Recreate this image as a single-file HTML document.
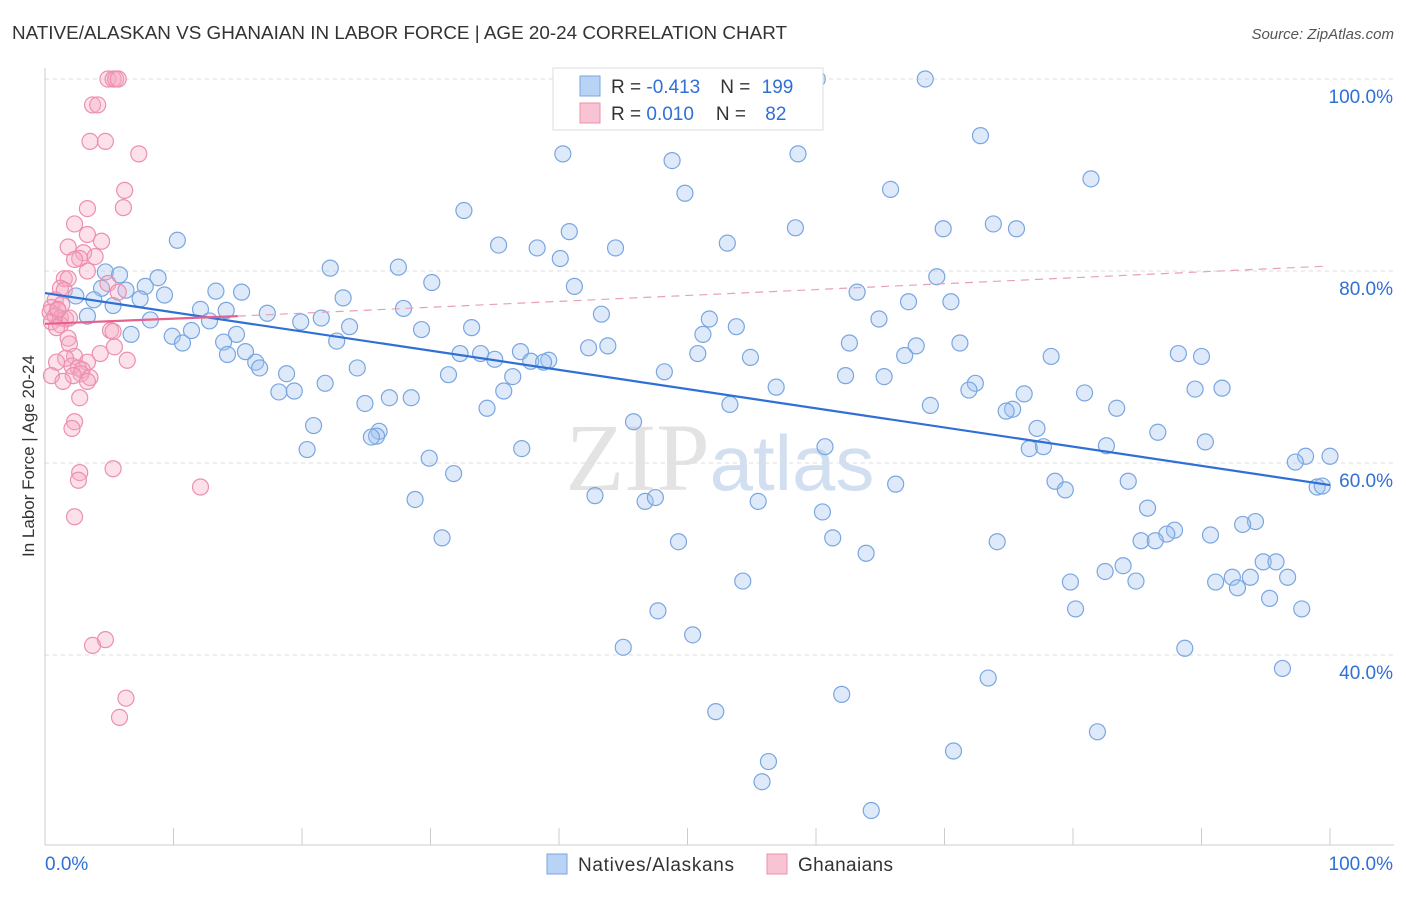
<!DOCTYPE html>
<html><head><meta charset="utf-8">
<style>
html,body{margin:0;padding:0;background:#fff;}
body{width:1406px;height:892px;overflow:hidden;font-family:"Liberation Sans",sans-serif;}
</style></head>
<body>
<svg id="chart" width="1406" height="892" xmlns="http://www.w3.org/2000/svg" font-family="Liberation Sans, sans-serif">
<text x="12" y="39" font-size="18" fill="#333" textLength="775" lengthAdjust="spacingAndGlyphs">NATIVE/ALASKAN VS GHANAIAN IN LABOR FORCE | AGE 20-24 CORRELATION CHART</text>
<text x="1394" y="39" font-size="15" fill="#555" text-anchor="end" font-style="italic">Source: ZipAtlas.com</text>
<text x="720" y="490" font-size="96" fill="#ddd" text-anchor="middle" font-family="Liberation Serif, serif" opacity="0.8">ZIP<tspan fill="#c8d8ee" font-family="Liberation Sans, sans-serif" font-size="78">atlas</tspan></text>
<g id="grid"></g>
<g id="axes"></g>
<g id="pts"></g>
<g id="trends"></g>
<text transform="translate(34,456) rotate(-90)" font-size="17" fill="#333" text-anchor="middle">In Labor Force | Age 20-24</text>
<g>
<rect x="553" y="68" width="270" height="62" fill="#fff" stroke="#ddd"/>
<rect x="580" y="76" width="20" height="20" fill="#b8d3f5" stroke="#7aa6e0"/>
<rect x="580" y="103" width="20" height="20" fill="#f8c4d4" stroke="#ec8fae"/>
<text x="611" y="93" font-size="19" fill="#333">R = <tspan fill="#2f6fd6">-0.413</tspan><tspan dx="20">N = </tspan><tspan fill="#2f6fd6" dx="6">199</tspan></text>
<text x="611" y="120" font-size="19" fill="#333">R = <tspan fill="#2f6fd6"> 0.010</tspan><tspan dx="22">N = </tspan><tspan fill="#2f6fd6" dx="14">82</tspan></text>
</g>
<g>
<rect x="547" y="854" width="20" height="20" fill="#b8d3f5" stroke="#7aa6e0"/>
<text x="578" y="871" font-size="19" fill="#333" textLength="156">Natives/Alaskans</text>
<rect x="767" y="854" width="20" height="20" fill="#f8c4d4" stroke="#ec8fae"/>
<text x="798" y="871" font-size="19" fill="#333" textLength="95">Ghanaians</text>
</g>
</svg>
<script>
const blueX=[60.1,58.7,68.5,45.4,46.3,72.8,40.3,58.6,48.8,81.4,65.8,49.8,32.6,73.8,75.6,69.9,58.4,40.8,10.3,35.3,38.3,53.1,44.4,40.1,22.2,27.5,4.7,5.8,8.8,69.4,30.1,41.2,7.8,4.4,6.3,13.3,15.3,63.2,9.3,7.4,2.4,3.8,23.2,67.2,70.5,5.3,27.9,12.1,14.1,3.3,17.3,43.3,51.7,64.9,8.2,12.8,19.9,21.5,23.7,29.3,33.2,53.8,51.2,6.7,9.9,11.4,14.9,22.7,13.9,10.7,62.6,71.2,67.8,42.3,43.8,15.6,14.2,32.3,33.9,37.0,50.8,54.9,66.9,78.3,88.2,90.0,35.0,37.8,39.2,38.8,16.4,16.7,24.3,48.2,18.8,31.4,36.4,62.3,65.3,21.8,56.9,72.4,71.9,89.5,91.6,76.2,80.9,18.2,19.4,35.7,26.8,28.5,24.9,34.4,53.3,68.9,75.3,74.8,83.4,20.9,45.8,77.2,86.6,26.0,25.8,25.4,90.3,82.6,60.7,76.6,77.7,37.1,20.4,29.9,98.1,100,97.3,31.8,78.6,84.3,66.2,79.4,99.0,99.4,28.8,42.8,46.7,47.5,55.5,85.8,60.5,94.2,93.2,87.9,87.3,90.7,85.3,86.4,30.9,49.3,61.3,74.1,63.9,83.9,94.8,95.8,82.5,92.4,93.8,96.7,91.1,84.9,79.8,54.3,92.8,95.3,97.8,80.2,47.7,50.4,45.0,88.7,96.3,73.4,62.0,52.2,81.9,70.7,56.3,55.8,64.3];
const blueY=[100,100,100,97.4,96.0,94.1,92.2,92.2,91.5,89.6,88.5,88.1,86.3,84.9,84.4,84.4,84.5,84.1,83.2,82.7,82.4,82.9,82.4,81.3,80.3,80.4,79.9,79.6,79.3,79.4,78.8,78.4,78.4,78.2,78.0,77.9,77.8,77.8,77.5,77.1,77.4,77.0,77.2,76.8,76.8,76.4,76.1,76.0,75.9,75.3,75.6,75.5,75.0,75.0,74.9,74.8,74.7,75.1,74.2,73.9,74.1,74.2,73.4,73.4,73.2,73.8,73.4,72.7,72.6,72.5,72.5,72.5,72.2,72.0,72.2,71.6,71.3,71.4,71.4,71.6,71.4,71.0,71.2,71.1,71.4,71.1,70.8,70.6,70.7,70.5,70.5,69.9,69.9,69.5,69.3,69.2,69.0,69.1,69.0,68.3,67.9,68.3,67.6,67.7,67.8,67.2,67.3,67.4,67.5,67.5,66.8,66.8,66.2,65.7,66.1,66.0,65.6,65.4,65.7,63.9,64.3,63.6,63.2,63.3,62.8,62.7,62.2,61.8,61.7,61.5,61.7,61.5,61.4,60.5,60.7,60.7,60.1,58.9,58.1,58.1,57.8,57.2,57.5,57.6,56.2,56.6,56.0,56.4,56.0,55.3,54.9,53.9,53.6,53.0,52.6,52.5,51.9,51.9,52.2,51.8,52.2,51.8,50.6,49.3,49.7,49.7,48.7,48.1,48.1,48.1,47.6,47.7,47.6,47.7,47.0,45.9,44.8,44.8,44.6,42.1,40.8,40.7,38.6,37.6,35.9,34.1,32.0,30.0,28.9,26.8,23.8];
const pinkX=[4.9,5.3,5.5,5.7,3.7,4.1,3.5,4.7,7.3,6.2,6.1,3.3,2.3,3.3,4.4,1.8,3.0,2.7,3.9,2.3,3.3,1.5,1.8,1.2,1.5,4.9,5.7,0.8,1.3,0.5,1.0,0.4,0.8,1.2,1.6,0.5,1.2,1.9,0.9,5.1,5.3,1.8,1.9,5.4,4.3,2.3,1.6,6.4,3.3,0.9,2.1,2.6,2.9,2.8,2.2,0.5,3.5,3.3,1.4,2.7,2.3,2.1,5.3,2.7,2.6,12.1,2.3,4.7,3.7,6.3,5.8,1.0];
const pinkY=[100,100,100,100,97.3,97.3,93.5,93.5,92.2,88.4,86.6,86.5,84.9,83.8,83.1,82.5,81.9,81.3,81.5,81.2,80.0,79.2,79.2,78.2,78.0,78.7,77.8,77.0,76.5,76.2,75.9,75.7,75.3,75.1,75.0,74.7,74.4,75.1,74.1,73.8,73.7,73.0,72.4,72.1,71.4,71.1,70.9,70.7,70.5,70.5,70.1,69.9,69.7,69.3,69.1,69.1,68.9,68.5,68.5,66.8,64.3,63.6,59.4,59.0,58.2,57.5,54.4,41.6,41.0,35.5,33.5,76.0];
const yTicks=[100,80,60,40];
const yTickLabels=["100.0%","80.0%","60.0%","40.0%"];
const xTickLabels=["0.0%","100.0%"];
const blueTrend=[[0,77.7],[100,57.7]];
const pinkTrend=[[0,74.5],[15,75.3],[99.6,80.5]];

const X=v=>45+v*12.85;
const Y=v=>1039-v*9.6;
const NS="http://www.w3.org/2000/svg";
function mk(tag,attrs,parent){const e=document.createElementNS(NS,tag);for(const k in attrs)e.setAttribute(k,attrs[k]);parent.appendChild(e);return e;}
const grid=document.getElementById('grid'),axes=document.getElementById('axes'),pts=document.getElementById('pts'),tr=document.getElementById('trends');
yTicks.forEach((t,i)=>{
  const l=mk('line',{x1:45,x2:1394,y1:Y(t),y2:Y(t),stroke:'#ddd','stroke-dasharray':'4,4'},grid);
  
  
  const tx=mk('text',{x:1393,y:Y(t)+24,'font-size':19,fill:'#2f6fd6','text-anchor':'end'},axes);
  tx.textContent=yTickLabels[i];
  
  
});
mk('line',{x1:45,x2:45,y1:68,y2:845,stroke:'#ccc'},axes);
mk('line',{x1:45,x2:1394,y1:845,y2:845,stroke:'#ccc'},axes);
for(let i=1;i<=10;i++){mk('line',{x1:X(i*10),x2:X(i*10),y1:828,y2:845,stroke:'#ccc'},axes);}
const xl0=mk('text',{x:45,y:870,'font-size':19,fill:'#2f6fd6'},axes);xl0.textContent=xTickLabels[0];


const xl1=mk('text',{x:1393,y:870,'font-size':19,fill:'#2f6fd6','text-anchor':'end'},axes);xl1.textContent=xTickLabels[1];


blueX.forEach((v,i)=>{
  const c=mk('circle',{cx:X(v),cy:Y(blueY[i]),r:8,fill:'rgba(160,196,240,0.35)',stroke:'#7aa6e0','stroke-width':1.2},pts);
  
  
});
pinkX.forEach((v,i)=>{
  const c=mk('circle',{cx:X(v),cy:Y(pinkY[i]),r:8,fill:'rgba(245,170,195,0.35)',stroke:'#ec8fae','stroke-width':1.2},pts);
  
  
});
const bl=mk('line',{x1:X(blueTrend[0][0]),y1:Y(blueTrend[0][1]),x2:X(blueTrend[1][0]),y2:Y(blueTrend[1][1]),stroke:'#2f6fd6','stroke-width':2.2},tr);


const pl=mk('line',{x1:X(pinkTrend[0][0]),y1:Y(pinkTrend[0][1]),x2:X(pinkTrend[1][0]),y2:Y(pinkTrend[1][1]),stroke:'#e8608c','stroke-width':2.2},tr);


const pd=mk('line',{x1:X(pinkTrend[1][0]),y1:Y(pinkTrend[1][1]),x2:X(pinkTrend[2][0]),y2:Y(pinkTrend[2][1]),stroke:'#e8a0b8','stroke-width':1.2,'stroke-dasharray':'8,6'},tr);


</script>
</body></html>
